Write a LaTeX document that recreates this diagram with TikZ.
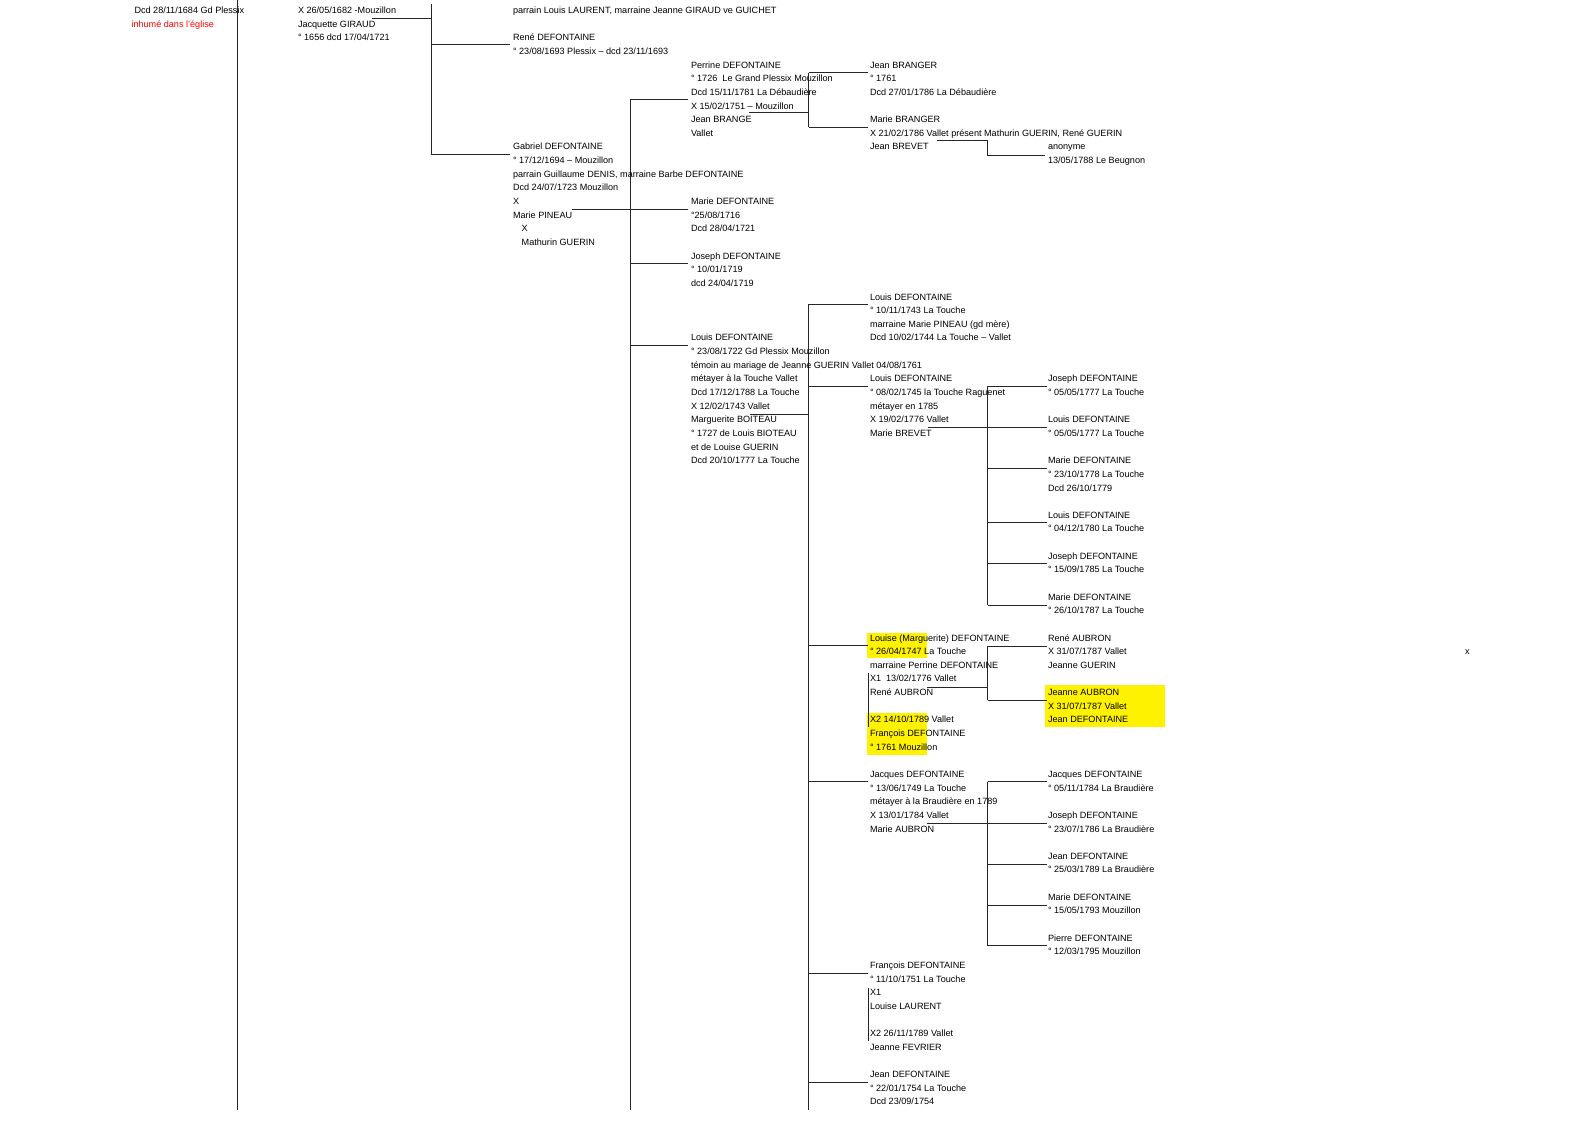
\documentclass[tikz,border=0pt]{standalone}
\usepackage{fontspec}
\setmainfont{Liberation Sans}
\tikzset{
  txt/.style={anchor=base west, inner sep=0pt, outer sep=0pt, font=\fontsize{9.1}{11}\selectfont, text=black},
  lnk/.style={draw=black!85, line width=0.9pt},
  hl/.style={fill=yellow, draw=none},
}
\newcommand\famblock[4]{\foreach \l [count=\i from 0] in {#4}{\node[txt] (#1-\i) at (#2,{13.6+13.64*(#3+\i)}) {\l};}}
\begin{document}
\begin{tikzpicture}[x=1pt,y=-1pt]
\useasboundingbox (0,0) rectangle (1588,1123);
% highlights
\fill[hl] (867.3,632.7) rectangle (927.3,658.3);
\fill[hl] (867.3,713.3) rectangle (927.3,755);
\fill[hl] (1045,685) rectangle (1165,727.3);
% trunks
\coordinate (t1a) at (237,0);      \coordinate (t1b) at (237,1110);
\coordinate (t2a) at (431,4);      \coordinate (t2b) at (431,154.3);
\coordinate (t3a) at (630,99.3);   \coordinate (t3b) at (630,1110);
\coordinate (t4a) at (808.5,72.7); \coordinate (t4b) at (808.5,127.3);
\coordinate (t5a) at (808.5,304.3);\coordinate (t5b) at (808.5,1110);
\coordinate (t6a) at (987.5,386);  \coordinate (t6b) at (987.5,605);
\coordinate (t7a) at (987.5,646);  \coordinate (t7b) at (987.5,700);
\coordinate (t8a) at (987.5,781.7);\coordinate (t8b) at (987.5,945.7);
\coordinate (t9a) at (987,140.7);  \coordinate (t9b) at (987,155);
\foreach \a/\b in {t1a/t1b,t2a/t2b,t3a/t3b,t4a/t4b,t5a/t5b,t6a/t6b,t7a/t7b,t8a/t8b}
  \draw[lnk] (\a) -- (\b);
% branches
\foreach \y in {44.6,154.3} \draw[lnk] (t2a |- 0,\y) -- (510,\y);
\foreach \y in {99.3,263,345} \draw[lnk] (t3a |- 0,\y) -- (688,\y);
\foreach \y in {72.7,127.3} \draw[lnk] (t4a |- 0,\y) -- (868,\y);
\foreach \y in {304.3,386,645,781.5,973.3,1082.5} \draw[lnk] (t5a |- 0,\y) -- (868,\y);
\foreach \y in {386,427.3,468.3,522.7,563.7,605} \draw[lnk] (t6a |- 0,\y) -- (1046.7,\y);
\foreach \y in {646,700} \draw[lnk] (t7a |- 0,\y) -- (1046.7,\y);
\foreach \y in {781.7,823.3,864.3,905.7,945.7} \draw[lnk] (t8a |- 0,\y) -- (1046.7,\y);
% marriage lines
\draw[lnk] (372,18.3) -- (t2a |- 0,18.3);
\draw[lnk] (572,209.3) -- (688,209.3);
\draw[lnk] (749,112.7) -- (t4a |- 0,112.7);
\draw[lnk] (750,414) -- (t5a |- 0,414);
\draw[lnk] (928,427.3) -- (t6a |- 0,427.3);
\draw[lnk] (927.3,687.3) -- (t7a |- 0,687.3);
\draw[lnk] (927.3,823.3) -- (t8a |- 0,823.3);
\draw[lnk] (937,140.7) -- (t9a) -- (t9b) -- (1045,155);
\draw[lnk] (868.3,673.3) -- (868.3,727.3);
\draw[lnk] (868.3,987.7) -- (868.3,1040.7);
% texts
\node[txt] (dcd) at (134.5,13.6) {Dcd 28/11/1684 Gd Plessix};
\node[txt,text=red] (inh) at (131.5,27.24) {inhumé dans l'église};
\famblock{mar}{298}{0}{X 26/05/1682 -Mouzillon,Jacquette GIRAUD,° 1656 dcd 17/04/1721}
\famblock{par}{513}{0}{{parrain Louis LAURENT, marraine Jeanne GIRAUD ve GUICHET}}
\famblock{rene}{513}{2}{René DEFONTAINE,° 23/08/1693 Plessix – dcd 23/11/1693}
\famblock{gab}{513}{10}{Gabriel DEFONTAINE,° 17/12/1694 – Mouzillon,{parrain Guillaume DENIS, marraine Barbe DEFONTAINE},Dcd 24/07/1723 Mouzillon,X,Marie PINEAU}
\famblock{gabx}{521.7}{16}{X,Mathurin GUERIN}
\famblock{per}{691}{4}{Perrine DEFONTAINE,° 1726\ \ Le Grand Plessix Mouzillon,Dcd 15/11/1781 La Débaudière,X 15/02/1751 – Mouzillon,Jean BRANGE,Vallet}
\famblock{marie}{691}{14}{Marie DEFONTAINE,°25/08/1716,Dcd 28/04/1721}
\famblock{jos}{691}{18}{Joseph DEFONTAINE,° 10/01/1719,dcd 24/04/1719}
\famblock{lou}{691}{24}{Louis DEFONTAINE,° 23/08/1722 Gd Plessix Mouzillon,témoin au mariage de Jeanne GUERIN Vallet 04/08/1761,métayer à la Touche Vallet,Dcd 17/12/1788 La Touche,X 12/02/1743 Vallet,Marguerite BOITEAU,° 1727 de Louis BIOTEAU,et de Louise GUERIN,Dcd 20/10/1777 La Touche}
\famblock{jbr}{870}{4}{Jean BRANGER,° 1761,Dcd 27/01/1786 La Débaudière}
\famblock{mbr}{870}{8}{Marie BRANGER,{X 21/02/1786 Vallet présent Mathurin GUERIN, René GUERIN},Jean BREVET}
\famblock{ano}{1048}{10}{anonyme,13/05/1788 Le Beugnon}
\famblock{lou43}{870}{21}{Louis DEFONTAINE,° 10/11/1743 La Touche,marraine Marie PINEAU (gd mère),Dcd 10/02/1744 La Touche – Vallet}
\famblock{lou45}{870}{27}{Louis DEFONTAINE,° 08/02/1745 la Touche Raguenet,métayer en 1785,X 19/02/1776 Vallet,Marie BREVET}
\famblock{loi}{870}{46}{Louise (Marguerite) DEFONTAINE,° 26/04/1747 La Touche,marraine Perrine DEFONTAINE,X1\ \ 13/02/1776 Vallet,René AUBRON}
\famblock{loib}{870}{52}{X2 14/10/1789 Vallet,François DEFONTAINE,° 1761 Mouzillon}
\famblock{jac}{870}{56}{Jacques DEFONTAINE,° 13/06/1749 La Touche,métayer à la Braudière en 1789,X 13/01/1784 Vallet,Marie AUBRON}
\famblock{fra}{870}{70}{François DEFONTAINE,° 11/10/1751 La Touche,X1,Louise LAURENT}
\famblock{frab}{870}{75}{X2 26/11/1789 Vallet,Jeanne FEVRIER}
\famblock{jean}{870}{78}{Jean DEFONTAINE,° 22/01/1754 La Touche,Dcd 23/09/1754}
\famblock{c1}{1048}{27}{Joseph DEFONTAINE,° 05/05/1777 La Touche}
\famblock{c2}{1048}{30}{Louis DEFONTAINE,° 05/05/1777 La Touche}
\famblock{c3}{1048}{33}{Marie DEFONTAINE,° 23/10/1778 La Touche,Dcd 26/10/1779}
\famblock{c4}{1048}{37}{Louis DEFONTAINE,° 04/12/1780 La Touche}
\famblock{c5}{1048}{40}{Joseph DEFONTAINE,° 15/09/1785 La Touche}
\famblock{c6}{1048}{43}{Marie DEFONTAINE,° 26/10/1787 La Touche}
\famblock{ra}{1048}{46}{René AUBRON,X 31/07/1787 Vallet,Jeanne GUERIN}
\famblock{ja}{1048}{50}{Jeanne AUBRON,X 31/07/1787 Vallet,Jean DEFONTAINE}
\famblock{d1}{1048}{56}{Jacques DEFONTAINE,° 05/11/1784 La Braudière}
\famblock{d2}{1048}{59}{Joseph DEFONTAINE,° 23/07/1786 La Braudière}
\famblock{d3}{1048}{62}{Jean DEFONTAINE,° 25/03/1789 La Braudière}
\famblock{d4}{1048}{65}{Marie DEFONTAINE,° 15/05/1793 Mouzillon}
\famblock{d5}{1048}{68}{Pierre DEFONTAINE,° 12/03/1795 Mouzillon}
\node[txt] (xmark) at (1465,654.7) {x};
\end{tikzpicture}
\end{document}
